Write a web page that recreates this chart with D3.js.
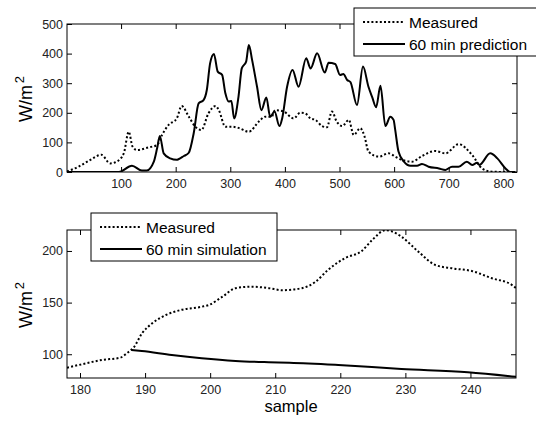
<!DOCTYPE html>
<html>
<head>
<meta charset="utf-8">
<script src="https://cdn.jsdelivr.net/npm/d3@7"></script>
<style>
  body { margin: 0; background: #fff; }
  svg { font-family: "Liberation Sans", Arial, sans-serif; }
</style>
</head>
<body>
<svg id="chart" width="536" height="423"></svg>
<script>
// top panel: whole record
var measuredX = [1, 4, 22, 41, 64, 80, 92, 105, 114, 121, 129, 150, 166, 175, 187, 202, 211, 224, 236, 247, 260, 273, 279, 291, 303, 315, 334, 352, 364, 376, 382, 398, 416, 428, 437, 447, 456, 468, 477, 486, 495, 505, 517, 526, 538, 546, 553, 572, 590, 602, 608, 633, 651, 675, 694, 718, 743, 761, 779, 810, 822];
var measuredY = [2, 4, 18, 38, 58, 29, 35, 63, 136, 86, 74, 83, 91, 125, 159, 181, 223, 187, 153, 142, 198, 223, 209, 153, 153, 149, 136, 170, 187, 187, 209, 204, 181, 200, 198, 181, 176, 155, 151, 204, 170, 155, 176, 125, 148, 119, 69, 52, 63, 52, 46, 35, 54, 71, 63, 94, 57, 12, 1, 0, 0];
var predX = [1, 96, 120, 138, 147, 160, 166, 171, 178, 190, 202, 205, 215, 224, 233, 242, 251, 257, 263, 270, 277, 285, 291, 297, 302, 307, 315, 321, 329, 334, 340, 349, 357, 366, 373, 381, 390, 395, 404, 414, 425, 439, 447, 459, 473, 480, 492, 501, 507, 514, 520, 532, 543, 553, 560, 567, 575, 584, 593, 599, 602, 608, 618, 630, 642, 651, 663, 682, 694, 706, 718, 733, 743, 752, 756, 776, 789, 804, 813, 822];
var predY = [0, 0, 21, 5, 5, 35, 80, 122, 63, 46, 41, 43, 54, 65, 131, 232, 243, 277, 367, 399, 339, 328, 266, 238, 240, 181, 254, 350, 373, 429, 378, 288, 209, 252, 187, 204, 155, 181, 288, 345, 288, 384, 350, 401, 336, 369, 365, 328, 331, 311, 304, 226, 356, 288, 252, 219, 291, 155, 187, 176, 142, 69, 35, 21, 21, 27, 18, 12, 7, 18, 18, 35, 24, 31, 24, 63, 46, 12, 0, 0];
var topXTicks = [100, 200, 300, 400, 500, 600, 700, 800];
var topYTicks = [0, 100, 200, 300, 400, 500];

// bottom panel: zoom on samples 178..247
var zoomMeasX = [178, 180.3, 183.4, 186.2, 187.2, 188.3, 189.5, 191.1, 193.2, 195.6, 198.7, 199.8, 201.9, 203.9, 206.4, 209, 211.1, 214.1, 216.1, 218.1, 220.7, 223.3, 224.9, 226.9, 227.9, 229.4, 232, 234.6, 237.2, 240.2, 243.3, 246.4, 247];
var zoomMeasY = [87, 90.3, 94.5, 96.7, 101, 107, 120, 130, 138, 143, 146, 147.7, 155.8, 164, 165.4, 164, 162, 164, 169.7, 181.6, 193, 200, 210.6, 220, 219, 213.8, 199.3, 186.4, 183.2, 180.6, 173.6, 167, 164];
var simX = [187.9, 189.5, 194.1, 198.7, 203.9, 209, 212.2, 219.7, 229.4, 239.6, 247];
var simY = [104.2, 103.2, 99.3, 96.1, 93.5, 92.3, 91.8, 89.6, 85.8, 82.6, 78.2];
var botXTicks = [180, 190, 200, 210, 220, 230, 240];
var botYTicks = [100, 150, 200];

var svg = d3.select("#chart");

function zip(xs, ys) {
    return xs.map(function (d, i) { return [d, ys[i]]; });
}

function drawPanel(box, xDomain, yDomain, xTicks, yTicks, series) {
    var x = d3.scaleLinear().domain(xDomain).range([box.left, box.right]);
    var y = d3.scaleLinear().domain(yDomain).range([box.bottom, box.top]);
    var g = svg.append("g");

    var clipId = "clip" + Math.round(box.top);
    g.append("clipPath").attr("id", clipId)
        .append("rect")
        .attr("x", box.left).attr("y", box.top)
        .attr("width", box.right - box.left).attr("height", box.bottom - box.top);

    var line = d3.line()
        .x(function (d) { return x(d[0]); })
        .y(function (d) { return y(d[1]); })
        .curve(d3.curveMonotoneX);

    series.forEach(function (s) {
        g.append("path")
            .attr("clip-path", "url(#" + clipId + ")")
            .attr("d", line(zip(s.xs, s.ys)))
            .attr("fill", "none")
            .attr("stroke", "#000")
            .attr("stroke-width", 2)
            .attr("stroke-linejoin", "round")
            .attr("stroke-dasharray", s.dotted ? "2,2.2" : null);
    });

    // inward ticks, matlab style, on all four sides
    var tk = 5;
    g.append("g").attr("transform", "translate(0," + box.bottom + ")")
        .call(d3.axisBottom(x).tickValues(xTicks).tickSize(-tk).tickPadding(7))
        .call(function (a) { a.select(".domain").remove(); });
    g.append("g").attr("transform", "translate(0," + box.top + ")")
        .call(d3.axisTop(x).tickValues(xTicks).tickSize(-tk).tickFormat(""))
        .call(function (a) { a.select(".domain").remove(); });
    g.append("g").attr("transform", "translate(" + box.left + ",0)")
        .call(d3.axisLeft(y).tickValues(yTicks).tickSize(-tk).tickPadding(4))
        .call(function (a) { a.select(".domain").remove(); });
    g.append("g").attr("transform", "translate(" + box.right + ",0)")
        .call(d3.axisRight(y).tickValues(yTicks).tickSize(-tk).tickFormat(""))
        .call(function (a) { a.select(".domain").remove(); });

    g.selectAll(".tick text")
        .style("font-size", "12.5px")
        .style("font-family", "Liberation Sans, Arial, sans-serif")
        .attr("fill", "#222");
    g.selectAll(".tick line").attr("stroke", "#000");

    g.append("rect")
        .attr("x", box.left).attr("y", box.top)
        .attr("width", box.right - box.left).attr("height", box.bottom - box.top)
        .attr("fill", "none").attr("stroke", "#000").attr("stroke-width", 1);

    // y label
    var yl = g.append("text")
        .attr("transform", "translate(" + 32 + "," + ((box.top + box.bottom) / 2 + 1) + ") rotate(-90)")
        .attr("text-anchor", "middle")
        .style("font-size", "18px");
    yl.append("tspan").text("W/m");
    yl.append("tspan").attr("dy", "-8").attr("dx", "2").style("font-size", "13px").text("2");

    return g;
}

function drawLegend(lg, labels) {
    var g = svg.append("g");
    g.append("rect")
        .attr("x", lg.x).attr("y", lg.y)
        .attr("width", lg.w).attr("height", lg.h)
        .attr("fill", "#fff").attr("stroke", "#000").attr("stroke-width", 1);
    labels.forEach(function (lab, i) {
        var cy = lg.y + 14 + i * 22;
        g.append("line")
            .attr("x1", lg.x + 9).attr("x2", lg.x + 51)
            .attr("y1", cy).attr("y2", cy)
            .attr("stroke", "#000").attr("stroke-width", 2)
            .attr("stroke-dasharray", i === 0 ? "2,2.2" : null);
        g.append("text")
            .attr("x", lg.x + 55).attr("y", cy)
            .attr("dy", "0.36em")
            .style("font-size", "15.5px")
            .text(lab);
    });
}

drawPanel({left: 67, right: 517, top: 24, bottom: 172}, [1, 825], [0, 500],
    topXTicks, topYTicks,
    [{xs: measuredX, ys: measuredY, dotted: true}, {xs: predX, ys: predY, dotted: false}]);
drawLegend({x: 354, y: 8, w: 190, h: 48}, ["Measured", "60 min prediction"]);

drawPanel({left: 67, right: 516, top: 230, bottom: 378}, [178, 247], [77, 220.3],
    botXTicks, botYTicks,
    [{xs: zoomMeasX, ys: zoomMeasY, dotted: true}, {xs: simX, ys: simY, dotted: false}]);
drawLegend({x: 91, y: 213, w: 186, h: 48}, ["Measured", "60 min simulation"]);

svg.append("text")
    .attr("x", 291).attr("y", 412)
    .attr("text-anchor", "middle")
    .style("font-size", "16.5px")
    .text("sample");
</script>
</body>
</html>
